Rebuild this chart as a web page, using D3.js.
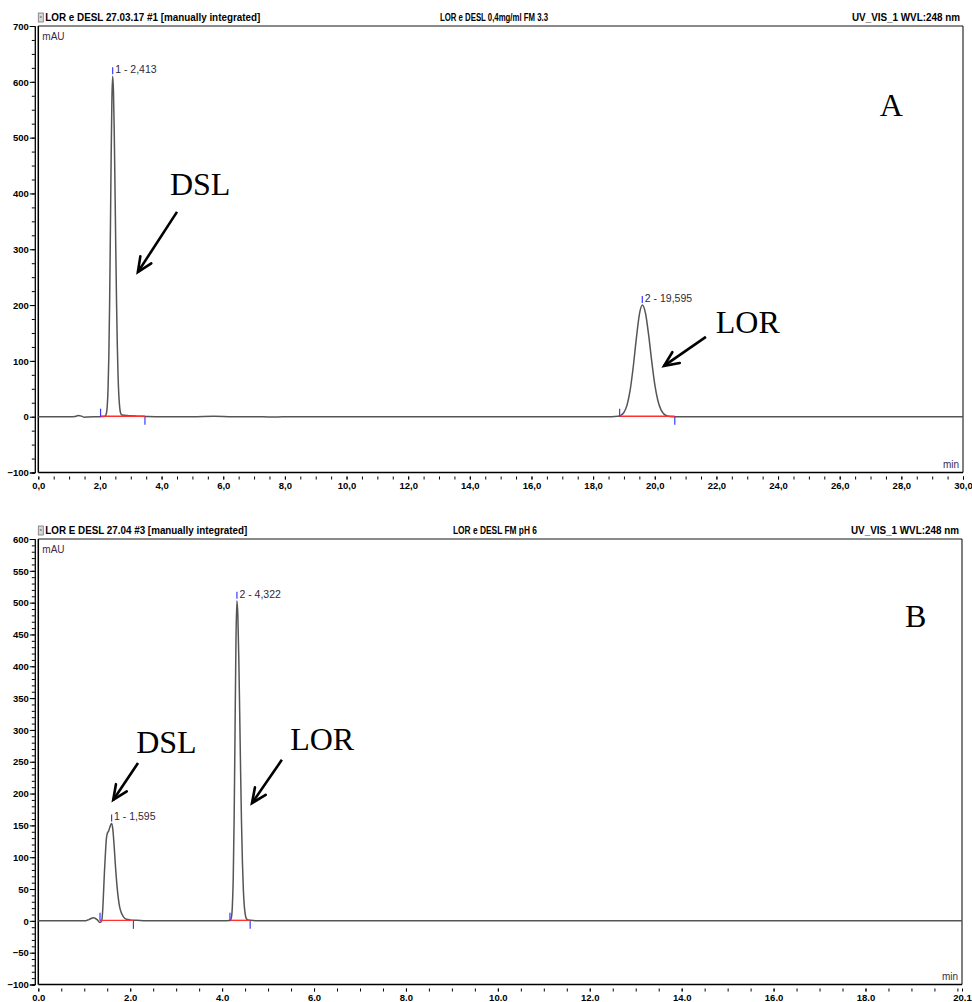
<!DOCTYPE html>
<html>
<head>
<meta charset="utf-8">
<script src="https://cdn.jsdelivr.net/npm/d3@7"></script>
<style>
  html, body { margin: 0; padding: 0; background: #fff; }
  svg { display: block; }
  .hdr { font-family: "Liberation Sans", Arial, sans-serif; font-weight: bold; font-size: 10px; fill: #000; }
  .tick-lbl { font-family: "Liberation Sans", Arial, sans-serif; font-weight: bold; font-size: 9.5px; fill: #000; }
  .unit { font-family: "Liberation Sans", Arial, sans-serif; font-size: 10px; fill: #3a2a4a; }
  .peak-lbl { font-family: "Liberation Sans", Arial, sans-serif; font-size: 10.5px; fill: #2b2b3b; }
  .anno { font-family: "Liberation Serif", "Times New Roman", serif; font-size: 32px; fill: #000; }
</style>
</head>
<body>
<svg id="chart" width="972" height="1002"></svg>
<script>
// ---------- Chromatogram A: LOR e DESL 0,4mg/ml, FM 3.3 ----------
const aTime = [0, 0.5, 1.0, 1.2, 1.3, 1.4, 1.5, 1.6, 1.8, 2.0, 2.1, 2.163, 2.213, 2.238, 2.263, 2.288, 2.313,
  2.338, 2.363, 2.388, 2.413, 2.438, 2.463, 2.488, 2.513, 2.538, 2.563, 2.588, 2.613, 2.638, 2.663, 2.713,
  2.8, 2.9, 3.0, 3.2, 3.5, 4.0, 5.0, 5.7, 6.3, 7.0, 7.6, 8.3, 10, 12, 14, 16, 18, 18.6,
  18.8, 18.9, 19.0, 19.1, 19.2, 19.3, 19.4, 19.5, 19.595, 19.7, 19.8, 19.9, 20.0, 20.1, 20.2, 20.3, 20.4, 20.5,
  20.7, 21, 22, 24, 26, 28, 30];
const aMAU = [0, 0, 0, 0.5, 2, 1, -1, -0.5, 0, 0, 0.3, 0.6, 7, 20, 50, 107, 200,
  326, 462, 569, 610, 584, 513, 413, 305, 207, 129, 73, 38, 18.5, 8, 3,
  2.5, 2, 1.5, 1, 0.5, 0, 0, 0.8, 0, 0, -0.6, 0, 0, 0, 0, 0, 0, 0,
  0.6, 2.4, 7.7, 20.8, 47, 88.6, 139, 183, 200, 185, 147, 100, 58, 29, 12.6, 4.6, 1.5, 0.4,
  0, 0, 0, 0, 0, 0, 0];
const aXTicks = ["0,0", "2,0", "4,0", "6,0", "8,0", "10,0", "12,0", "14,0", "16,0", "18,0",
  "20,0", "22,0", "24,0", "26,0", "28,0", "30,0"];
const aYTicks = [-100, 0, 100, 200, 300, 400, 500, 600, 700];
const aPeakLabels = ["1 - 2,413", "2 - 19,595"];
const aPeakTime = [2.413, 19.595];
const aPeakHeight = [610, 200];
const aIntStart = [2.02, 18.86];
const aIntEnd = [3.46, 20.65];
const aHeader = ["LOR e DESL 27.03.17 #1 [manually integrated]", "LOR e DESL 0,4mg/ml FM 3.3", "UV_VIS_1 WVL:248 nm"];
const aAnnoText = ["A", "DSL", "LOR"];
const aAnnoTime = [27.3, 4.27, 21.98];
const aAnnoMAU = [538, 397, 150];
const aArrowFrom = [[4.50, 367], [21.66, 143]];
const aArrowTo = [[3.23, 259], [20.30, 91]];

// ---------- Chromatogram B: LOR e DESL, FM pH 6 ----------
const bTime = [0, 0.5, 1.0, 1.1, 1.2, 1.28, 1.34, 1.38, 1.40, 1.42, 1.44, 1.46, 1.48, 1.50, 1.53, 1.56, 1.595,
  1.62, 1.65, 1.68, 1.71, 1.74, 1.77, 1.80, 1.84, 1.88, 1.92, 2.0, 2.1, 2.4, 3.0, 3.5, 4.0,
  4.172, 4.202, 4.222, 4.242, 4.262, 4.282, 4.302, 4.322, 4.342, 4.362, 4.382, 4.402, 4.422, 4.442,
  4.462, 4.482, 4.502, 4.522, 4.562, 4.62, 4.8, 5.5, 6, 8, 10, 12, 14, 16, 18, 20.1];
const bMAU = [0, 0, 0, 2, 5, 2, -2.5, 0, 15, 45, 78, 105, 128, 137, 141, 148, 153,
  145, 118, 85, 57, 36, 22, 14, 8, 4, 2.5, 1.5, 1, 0, 0, 0, 0,
  0.4, 5.6, 22, 68, 163, 305, 444, 503, 480, 416, 329, 236, 154, 92,
  49, 24, 11, 4.4, 1.5, 0.8, 0, 0, 0, 0, 0, 0, 0, 0, 0, 0];
const bXTicks = ["0.0", "2.0", "4.0", "6.0", "8.0", "10.0", "12.0", "14.0", "16.0", "18.0", "20.1"];
const bXTickTimes = [0, 2, 4, 6, 8, 10, 12, 14, 16, 18, 20.1];
const bYTicks = [-100, -50, 0, 50, 100, 150, 200, 250, 300, 350, 400, 450, 500, 550, 600];
const bPeakLabels = ["1 - 1,595", "2 - 4,322"];
const bPeakTime = [1.595, 4.322];
const bPeakHeight = [153, 503];
const bIntStart = [1.343, 4.17];
const bIntEnd = [2.07, 4.61];
const bHeader = ["LOR E DESL 27.04 #3 [manually integrated]", "LOR e DESL FM pH 6", "UV_VIS_1 WVL:248 nm"];
const bAnnoText = ["B", "DSL", "LOR"];
const bAnnoTime = [18.86, 2.13, 5.48];
const bAnnoMAU = [462, 264, 268];
const bArrowFrom = [[2.17, 248], [5.30, 253]];
const bArrowTo = [[1.63, 190], [4.65, 185]];

const svg = d3.select("#chart");

function drawPanel(cfg) {
  const g = svg.append("g");
  const x = d3.scaleLinear().domain(cfg.xDomain).range([cfg.left, cfg.right]);
  const y = d3.scaleLinear().domain(cfg.yDomain).range([cfg.bottom, cfg.top]);

  // header strip
  g.append("rect").attr("x", cfg.left).attr("y", cfg.top - 13).attr("width", 5).attr("height", 9)
    .attr("fill", "#d8d8d8").attr("stroke", "#777").attr("stroke-width", 0.8);
  g.append("line").attr("x1", cfg.left + 1.5).attr("x2", cfg.left + 3.5)
    .attr("y1", cfg.top - 9).attr("y2", cfg.top - 9).attr("stroke", "#555");
  g.append("text").attr("class", "hdr").attr("x", cfg.left + 7).attr("y", cfg.top - 5)
    .attr("textLength", cfg.hdrW[0]).attr("lengthAdjust", "spacingAndGlyphs").text(cfg.header[0]);
  g.append("text").attr("class", "hdr").attr("x", cfg.hdrMid).attr("y", cfg.top - 5)
    .attr("textLength", cfg.hdrW[1]).attr("lengthAdjust", "spacingAndGlyphs").text(cfg.header[1]);
  g.append("text").attr("class", "hdr").attr("x", cfg.right - 3 - cfg.hdrW[2]).attr("y", cfg.top - 5)
    .attr("textLength", cfg.hdrW[2]).attr("lengthAdjust", "spacingAndGlyphs").text(cfg.header[2]);

  // frame
  g.append("line").attr("x1", cfg.left).attr("x2", cfg.right).attr("y1", cfg.top).attr("y2", cfg.top)
    .attr("stroke", "#8a8a8a").attr("stroke-width", 2);
  g.append("line").attr("x1", cfg.right).attr("x2", cfg.right).attr("y1", cfg.top).attr("y2", cfg.bottom)
    .attr("stroke", "#000").attr("stroke-width", 1);
  g.append("line").attr("x1", cfg.left).attr("x2", cfg.right).attr("y1", cfg.bottom).attr("y2", cfg.bottom)
    .attr("stroke", "#000").attr("stroke-width", 1.5);
  g.append("line").attr("x1", cfg.left).attr("x2", cfg.left).attr("y1", cfg.top).attr("y2", cfg.bottom)
    .attr("stroke", "#000").attr("stroke-width", 1.5);

  // y axis (separate line left of the frame)
  const yAxisX = cfg.left - 3.5;
  const yMinor = d3.range(cfg.yDomain[0], cfg.yDomain[1] + 0.001, cfg.yMinorStep);
  const yAx = d3.axisLeft(y).tickValues(yMinor).tickSize(3).tickFormat("");
  const yg = g.append("g").attr("transform", `translate(${yAxisX},0)`).call(yAx);
  const yAxMaj = d3.axisLeft(y).tickValues(cfg.yTicks).tickSize(5).tickFormat(d3.format("d"));
  const yg2 = g.append("g").attr("transform", `translate(${yAxisX},0)`).call(yAxMaj);
  [yg, yg2].forEach(s => {
    s.select(".domain").attr("stroke", "#000").attr("stroke-width", 1);
    s.selectAll(".tick line").attr("stroke", "#000").attr("stroke-width", 1);
  });
  yg2.selectAll(".tick text").attr("class", "tick-lbl").attr("x", -6).attr("dy", "0.34em");
  yg2.attr("font-family", null).attr("font-size", null);

  // x axis ticks below the frame
  const xMinor = d3.range(cfg.xDomain[0], cfg.xMinorEnd + 0.001, 0.5);
  const xg = g.append("g").attr("transform", `translate(0,${cfg.bottom + 4})`)
    .call(d3.axisBottom(x).tickValues(xMinor).tickSize(3).tickFormat(""));
  xg.select(".domain").remove();
  xg.selectAll(".tick line").attr("stroke", "#000").attr("stroke-width", 1);
  const xl = g.append("g").attr("transform", `translate(0,${cfg.bottom + 4})`)
    .call(d3.axisBottom(x).tickValues(cfg.xTickTimes).tickSize(3)
      .tickFormat((d, i) => cfg.xTicks[i]));
  xl.attr("font-family", null).attr("font-size", null);
  xl.select(".domain").remove();
  xl.selectAll(".tick line").attr("stroke", "#000").attr("stroke-width", 1);
  xl.selectAll(".tick text").attr("class", "tick-lbl").attr("y", 6).attr("dy", "0.71em");

  // axis units
  g.append("text").attr("class", "unit").attr("x", cfg.left + 4).attr("y", cfg.top + 14).text("mAU");
  g.append("text").attr("class", "unit").attr("x", cfg.right - 4).attr("y", cfg.bottom - 5)
    .attr("text-anchor", "end").text("min");

  // trace
  const line = d3.line().x(d => x(d[0])).y(d => y(d[1])).curve(d3.curveMonotoneX);
  const pts = cfg.time.map((t, i) => [t, cfg.mau[i]]);
  g.append("path").attr("d", line(pts)).attr("fill", "none")
    .attr("stroke", "#555").attr("stroke-width", 1.5).attr("stroke-linejoin", "round");

  // integration baselines and delimiters
  cfg.intStart.forEach((s, i) => {
    const e = cfg.intEnd[i];
    g.append("line").attr("x1", x(s)).attr("x2", x(e)).attr("y1", y(0) - 0.5).attr("y2", y(0) - 0.5)
      .attr("stroke", "#ff3030").attr("stroke-width", 1.4);
    g.append("line").attr("x1", x(s)).attr("x2", x(s)).attr("y1", y(0) - 8).attr("y2", y(0))
      .attr("stroke", "#3a3aff").attr("stroke-width", 1.2);
    g.append("line").attr("x1", x(e)).attr("x2", x(e)).attr("y1", y(0)).attr("y2", y(0) + 8)
      .attr("stroke", "#3a3aff").attr("stroke-width", 1.2);
  });

  // peak apex markers and labels
  cfg.peakTime.forEach((t, i) => {
    const px = x(t), py = y(cfg.peakHeight[i]);
    g.append("line").attr("x1", px).attr("x2", px).attr("y1", py - 9).attr("y2", py - 2)
      .attr("stroke", "#3a3aff").attr("stroke-width", 1.2);
    g.append("text").attr("class", "peak-lbl").attr("x", px + 2.5).attr("y", py - 3)
      .text(cfg.peakLabels[i]);
  });

  // annotations
  cfg.annoText.forEach((s, i) => {
    g.append("text").attr("class", "anno").attr("x", x(cfg.annoTime[i])).attr("y", y(cfg.annoMAU[i])).text(s);
  });
  cfg.arrowFrom.forEach((f, i) => {
    const t = cfg.arrowTo[i];
    const x1 = x(f[0]), y1 = y(f[1]), x2 = x(t[0]), y2 = y(t[1]);
    const ang = Math.atan2(y2 - y1, x2 - x1);
    const hl = 16, ha = 0.42;
    g.append("line").attr("x1", x1).attr("y1", y1).attr("x2", x2).attr("y2", y2)
      .attr("stroke", "#000").attr("stroke-width", 2.6);
    const p1 = [x2 - hl * Math.cos(ang - ha), y2 - hl * Math.sin(ang - ha)];
    const p2 = [x2 - hl * Math.cos(ang + ha), y2 - hl * Math.sin(ang + ha)];
    g.append("path").attr("d", `M${p1[0]},${p1[1]}L${x2},${y2}L${p2[0]},${p2[1]}`)
      .attr("fill", "none").attr("stroke", "#000").attr("stroke-width", 2.6)
      .attr("stroke-linejoin", "miter").attr("stroke-linecap", "round");
  });
}

drawPanel({
  xDomain: [0, 30], yDomain: [-100, 700], left: 38.3, right: 963, top: 26, bottom: 472.5,
  time: aTime, mau: aMAU, xTicks: aXTicks, xTickTimes: d3.range(0, 30.001, 2), xMinorEnd: 30,
  yTicks: aYTicks, yMinorStep: 25, peakLabels: aPeakLabels, peakTime: aPeakTime, peakHeight: aPeakHeight,
  intStart: aIntStart, intEnd: aIntEnd, header: aHeader, hdrW: [215, 108, 108], hdrMid: 440,
  annoText: aAnnoText, annoTime: aAnnoTime, annoMAU: aAnnoMAU, arrowFrom: aArrowFrom, arrowTo: aArrowTo
});

drawPanel({
  xDomain: [0, 20.1], yDomain: [-100, 600], left: 38.3, right: 962, top: 539, bottom: 984.5,
  time: bTime, mau: bMAU, xTicks: bXTicks, xTickTimes: bXTickTimes, xMinorEnd: 20,
  yTicks: bYTicks, yMinorStep: 10, peakLabels: bPeakLabels, peakTime: bPeakTime, peakHeight: bPeakHeight,
  intStart: bIntStart, intEnd: bIntEnd, header: bHeader, hdrW: [202, 84, 108], hdrMid: 453,
  annoText: bAnnoText, annoTime: bAnnoTime, annoMAU: bAnnoMAU, arrowFrom: bArrowFrom, arrowTo: bArrowTo
});
</script>
</body>
</html>
